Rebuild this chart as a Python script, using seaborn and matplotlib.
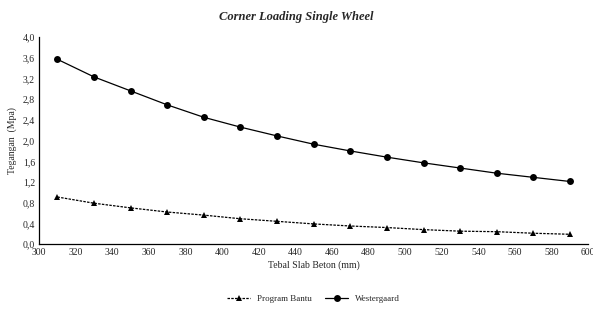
import numpy as np
import pandas as pd
import seaborn as sns
import matplotlib.pyplot as plt
from matplotlib.ticker import FuncFormatter

tebal = [310, 330, 350, 370, 390, 410, 430, 450, 470, 490, 510, 530, 550, 570, 590]
program_bantu = [0.91, 0.79, 0.70, 0.62, 0.56, 0.49, 0.44, 0.39, 0.35, 0.32, 0.28, 0.25, 0.24, 0.21, 0.19]
westergaard = [3.57, 3.23, 2.96, 2.69, 2.45, 2.26, 2.09, 1.93, 1.80, 1.68, 1.57, 1.47, 1.37, 1.29, 1.21]

df = pd.DataFrame({"Tebal": tebal * 2,
                   "Tegangan": program_bantu + westergaard,
                   "Metode": ["Program Bantu"] * len(tebal) + ["Westergaard"] * len(tebal)})

sns.set_style("white")
plt.rcParams['font.family'] = ['Liberation Serif', 'DejaVu Serif']

fig = plt.figure(figsize=(5.93, 3.09), dpi=100)
ax = fig.add_axes([0.066, 0.21, 0.926, 0.67])

sns.lineplot(data=df, x="Tebal", y="Tegangan", hue="Metode", style="Metode",
             palette=["black", "black"], markers={"Program Bantu": "^", "Westergaard": "o"},
             dashes={"Program Bantu": (2, 1), "Westergaard": ""},
             linewidth=0.9, markersize=5, markeredgewidth=0, ax=ax)

ax.set_xlim(300, 600)
ax.set_ylim(0, 4.0)
ax.set_xticks(np.arange(300, 601, 20))
ax.set_yticks(np.arange(0, 4.01, 0.4))
ax.yaxis.set_major_formatter(FuncFormatter(lambda v, p: f"{v:.1f}".replace(".", ",")))
ax.tick_params(labelsize=7, length=0, pad=3)
sns.despine(ax=ax)
for s in ["left", "bottom"]:
    ax.spines[s].set_color("black")
    ax.spines[s].set_linewidth(0.9)

ax.set_xlabel("Tebal Slab Beton (mm)", fontsize=7, labelpad=2)
ax.set_ylabel("Tegangan  (Mpa)", fontsize=7, labelpad=4)
fig.text(0.5, 0.945, "Corner Loading Single Wheel", ha="center", va="center",
         fontsize=9, fontstyle="italic", fontweight="bold")

ax.legend(loc="center", bbox_to_anchor=(0.5, -0.266), ncol=2, frameon=False,
          fontsize=6.5, handlelength=2.5, columnspacing=1.5, title=None)

plt.savefig("out.png", dpi=100)
